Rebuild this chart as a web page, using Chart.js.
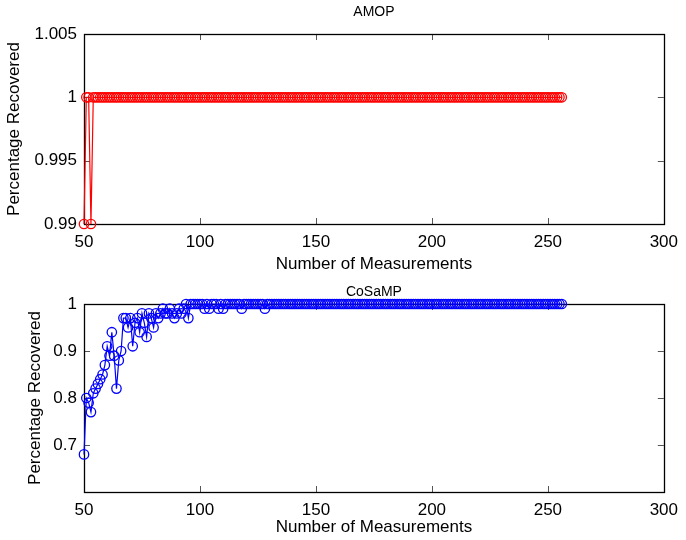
<!DOCTYPE html>
<html>
<head>
<meta charset="utf-8">
<script src="https://cdn.jsdelivr.net/npm/chart.js@4/dist/chart.umd.min.js"></script>
<style>
  html, body { margin: 0; padding: 0; background: #fff; }
  #wrap { position: relative; width: 686px; height: 540px; }
  .box { position: absolute; left: 0; width: 686px; }
</style>
</head>
<body>
<div id="wrap">
  <div class="box" style="top:0;height:276px"><canvas id="c1" width="686" height="276"></canvas></div>
  <div class="box" style="top:276px;height:264px"><canvas id="c2" width="686" height="264"></canvas></div>
</div>
<script>
// ---- data ----
const measurements = [
  50,51,52,53,54,55,56,57,58,59,
  60,61,62,63,64,65,66,67,68,69,
  70,71,72,73,74,75,76,77,78,79,
  80,81,82,83,84,85,86,87,88,89,
  90,91,92,93,94,95,96,97,98,99,
  100,101,102,103,104,105,106,107,108,109,
  110,111,112,113,114,115,116,117,118,119,
  120,121,122,123,124,125,126,127,128,129,
  130,131,132,133,134,135,136,137,138,139,
  140,141,142,143,144,145,146,147,148,149,
  150,151,152,153,154,155,156,157,158,159,
  160,161,162,163,164,165,166,167,168,169,
  170,171,172,173,174,175,176,177,178,179,
  180,181,182,183,184,185,186,187,188,189,
  190,191,192,193,194,195,196,197,198,199,
  200,201,202,203,204,205,206,207,208,209,
  210,211,212,213,214,215,216,217,218,219,
  220,221,222,223,224,225,226,227,228,229,
  230,231,232,233,234,235,236,237,238,239,
  240,241,242,243,244,245,246,247,248,249,
  250,251,252,253,254,255,256
];
const amopRecovered = [
  0.99,1,1,0.99,1,1,1,1,1,1,
  1,1,1,1,1,1,1,1,1,1,
  1,1,1,1,1,1,1,1,1,1,
  1,1,1,1,1,1,1,1,1,1,
  1,1,1,1,1,1,1,1,1,1,
  1,1,1,1,1,1,1,1,1,1,
  1,1,1,1,1,1,1,1,1,1,
  1,1,1,1,1,1,1,1,1,1,
  1,1,1,1,1,1,1,1,1,1,
  1,1,1,1,1,1,1,1,1,1,
  1,1,1,1,1,1,1,1,1,1,
  1,1,1,1,1,1,1,1,1,1,
  1,1,1,1,1,1,1,1,1,1,
  1,1,1,1,1,1,1,1,1,1,
  1,1,1,1,1,1,1,1,1,1,
  1,1,1,1,1,1,1,1,1,1,
  1,1,1,1,1,1,1,1,1,1,
  1,1,1,1,1,1,1,1,1,1,
  1,1,1,1,1,1,1,1,1,1,
  1,1,1,1,1,1,1,1,1,1,
  1,1,1,1,1,1,1
];
const cosampRecovered = [
  0.68,0.80,0.79,0.77,0.81,0.82,0.83,0.84,0.85,0.87,
  0.91,0.89,0.94,0.89,0.82,0.88,0.90,0.97,0.97,0.95,
  0.97,0.91,0.96,0.97,0.94,0.98,0.96,0.93,0.98,0.97,
  0.95,0.98,0.97,0.98,0.99,0.98,0.98,0.99,0.98,0.97,
  0.98,0.99,0.98,0.99,1,0.97,1,1,1,1,
  1,1,0.99,1,0.99,1,1,1,0.99,1,
  0.99,1,1,1,1,1,1,1,0.99,1,
  1,1,1,1,1,1,1,1,0.99,1,
  1,1,1,1,1,1,1,1,1,1,
  1,1,1,1,1,1,1,1,1,1,
  1,1,1,1,1,1,1,1,1,1,
  1,1,1,1,1,1,1,1,1,1,
  1,1,1,1,1,1,1,1,1,1,
  1,1,1,1,1,1,1,1,1,1,
  1,1,1,1,1,1,1,1,1,1,
  1,1,1,1,1,1,1,1,1,1,
  1,1,1,1,1,1,1,1,1,1,
  1,1,1,1,1,1,1,1,1,1,
  1,1,1,1,1,1,1,1,1,1,
  1,1,1,1,1,1,1,1,1,1,
  1,1,1,1,1,1,1
];
const xTicks = [50, 100, 150, 200, 250, 300];
const amopYTicks = [0.99, 0.995, 1, 1.005];
const cosampYTicks = [0.7, 0.8, 0.9, 1];

// ---- styling / helpers ----
const FONT = '"Liberation Sans", Arial, Helvetica, sans-serif';
Chart.defaults.font.family = FONT;
Chart.defaults.color = '#000';

const framePlugin = {
  id: 'frame',
  beforeDatasetsDraw(chart) {
    const { ctx, chartArea: a } = chart;
    const xs = chart.scales.x, ys = chart.scales.y;
    const tl = 6;
    ctx.save();
    ctx.strokeStyle = '#555';
    ctx.lineWidth = 1;
    ctx.beginPath();
    xs.ticks.forEach(t => {
      const px = Math.round(xs.getPixelForValue(t.value)) + 0.5;
      ctx.moveTo(px, a.bottom); ctx.lineTo(px, a.bottom - tl);
      ctx.moveTo(px, a.top); ctx.lineTo(px, a.top + tl);
    });
    ys.ticks.forEach(t => {
      const py = Math.round(ys.getPixelForValue(t.value)) + 0.5;
      ctx.moveTo(a.left, py); ctx.lineTo(a.left + tl, py);
      ctx.moveTo(a.right, py); ctx.lineTo(a.right - tl, py);
    });
    ctx.stroke();
    ctx.strokeStyle = '#000';
    ctx.lineWidth = 1.3;
    ctx.strokeRect(Math.round(a.left) + 0.5, Math.round(a.top) + 0.5,
                   Math.round(a.right - a.left), Math.round(a.bottom - a.top));
    ctx.restore();
  }
};

function makeChart(id, cfg) {
  const points = measurements.map((m, i) => ({ x: m, y: cfg.values[i] }));
  return new Chart(document.getElementById(id), {
    type: 'line',
    data: {
      datasets: [{
        data: points,
        borderColor: cfg.color,
        backgroundColor: 'rgba(0,0,0,0)',
        borderWidth: 1.2,
        pointStyle: 'circle',
        pointRadius: 4.7,
        pointBorderWidth: 1.3,
        pointBorderColor: cfg.color,
        pointBackgroundColor: 'rgba(0,0,0,0)',
        tension: 0,
        clip: false
      }]
    },
    options: {
      responsive: false,
      animation: false,
      events: [],
      layout: { padding: { left: 0, right: 17, top: 0, bottom: 0 } },
      plugins: {
        legend: { display: false },
        tooltip: { enabled: false },
        title: {
          display: true,
          fullSize: false,
          text: cfg.title,
          color: '#000',
          font: { size: 14, weight: 'normal', family: FONT },
          padding: cfg.titlePad
        }
      },
      scales: {
        x: {
          type: 'linear',
          min: 50, max: 300,
          afterBuildTicks(s) { s.ticks = xTicks.map(v => ({ value: v })); },
          afterFit(s) { s.height = cfg.xHeight; },
          grid: { display: false, drawTicks: false },
          border: { display: false },
          ticks: { padding: 8, color: '#000', font: { size: 17, family: FONT }, maxRotation: 0,
                   callback: v => String(v) },
          title: { display: true, text: 'Number of Measurements', color: '#000',
                   font: { size: 17, family: FONT }, padding: { top: 0, bottom: cfg.xTitlePad } }
        },
        y: {
          type: 'linear',
          min: cfg.yMin, max: cfg.yMax,
          afterBuildTicks(s) { s.ticks = cfg.yTicks.map(v => ({ value: v })); },
          afterFit(s) { s.width = 84; },
          grid: { display: false, drawTicks: false },
          border: { display: false },
          ticks: { padding: 7, color: '#000', font: { size: 17, family: FONT },
                   callback: v => String(Number(v.toFixed(3))) },
          title: { display: true, text: 'Percentage Recovered', color: '#000',
                   font: { size: 17, family: FONT }, padding: { top: cfg.yTitlePad, bottom: 0 } }
        }
      }
    },
    plugins: [framePlugin]
  });
}

makeChart('c1', {
  values: amopRecovered, color: '#ff0000', title: 'AMOP',
  yMin: 0.99, yMax: 1.005, yTicks: amopYTicks,
  titlePad: { top: 3.6, bottom: 13.6 }, xHeight: 52, xTitlePad: 1.8, yTitlePad: 3.8
});
makeChart('c2', {
  values: cosampRecovered, color: '#0000ff', title: 'CoSaMP',
  yMin: 0.6, yMax: 1, yTicks: cosampYTicks,
  titlePad: { top: 7.6, bottom: 3.6 }, xHeight: 48, xTitlePad: 2.8, yTitlePad: 24.8
});
</script>
</body>
</html>
